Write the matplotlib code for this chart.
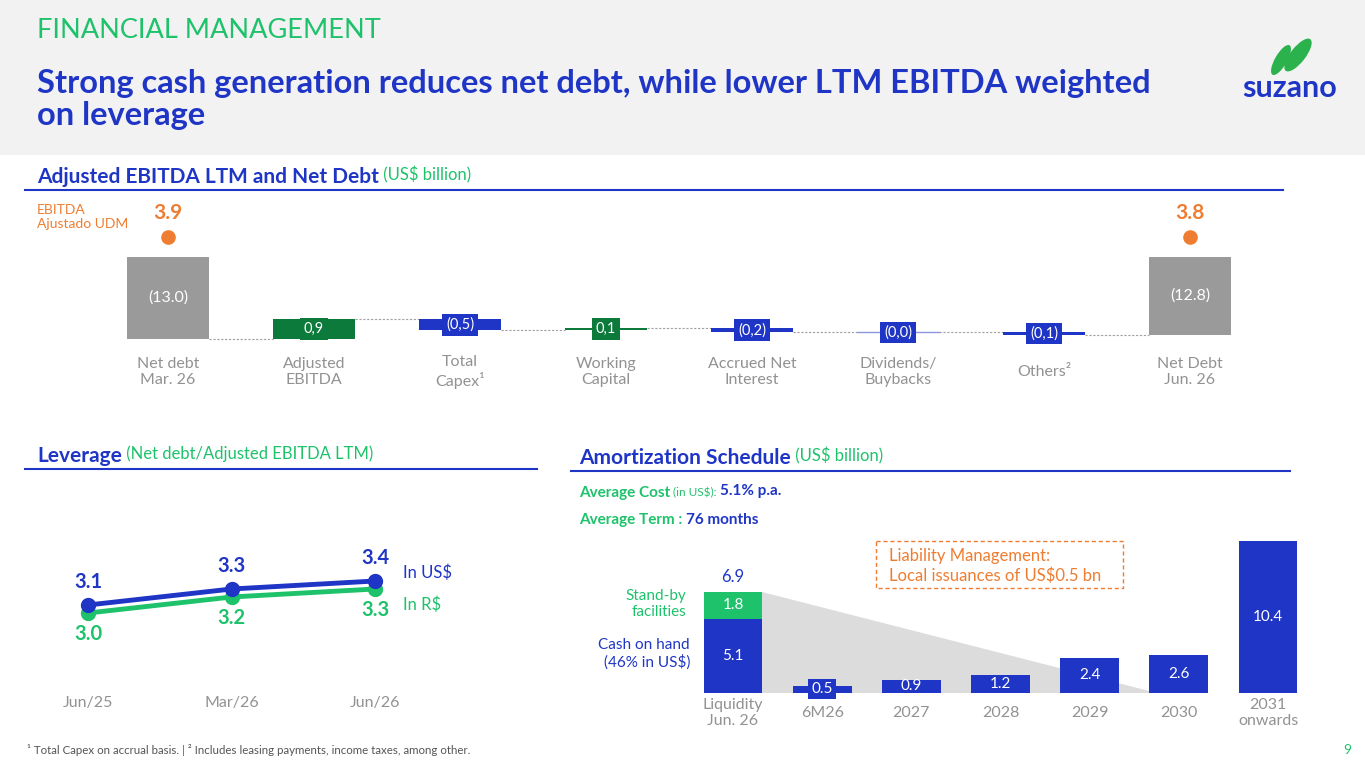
import matplotlib.pyplot as plt
from matplotlib.patches import Rectangle, Polygon, Ellipse

W, H = 1365, 768
plt.rcParams['font.family'] = ['Lato', 'DejaVu Sans']

# --- data ---
wf_labels = ['Net debt\nMar. 26', 'Adjusted\nEBITDA', 'Total\nCapex¹', 'Working\nCapital',
             'Accrued Net\nInterest', 'Dividends/\nBuybacks', 'Others²', 'Net Debt\nJun. 26']
net_debt_start = 13.0
net_debt_end = 12.8
debt_changes = [-0.9, 0.5, -0.1, 0.2, 0.0, 0.1]
change_texts = ['0,9', '(0,5)', '0,1', '(0,2)', '(0,0)', '(0,1)']
ebitda_ltm = [3.9, 3.8]

lev_periods = ['Jun/25', 'Mar/26', 'Jun/26']
lev_usd = [3.1, 3.3, 3.4]
lev_brl = [3.0, 3.2, 3.3]

amort_cats = ['Liquidity\nJun. 26', '6M26', '2027', '2028', '2029', '2030', '2031\nonwards']
cash_on_hand = 5.1
standby = 1.8
amort_values = [0.5, 0.9, 1.2, 2.4, 2.6, 10.4]

# --- colours ---
BLUE = '#1f35c5'
GREEN = '#1ec26b'
DKGREEN = '#0b7a3a'
GRAYBAR = '#9a9a9a'
ORANGE = '#ee7d31'
LBL = '#929292'


def px_axes(x0, y0, x1, y1):
    a = fig.add_axes([x0 / W, 1 - y1 / H, (x1 - x0) / W, (y1 - y0) / H])
    a.set_facecolor('none')
    a.axis('off')
    return a


fig = plt.figure(figsize=(W / 100, H / 100), dpi=100)
bg = px_axes(0, 0, W, H)
bg.set_xlim(0, W)
bg.set_ylim(H, 0)

# header
bg.add_patch(Rectangle((0, 0), W, 155, fc='#f2f2f2', ec='none'))
bg.text(37, 31, 'FINANCIAL MANAGEMENT', color=GREEN, fontsize=19.5, va='center')
bg.text(37, 83, 'Strong cash generation reduces net debt, while lower LTM EBITDA weighted',
        color=BLUE, fontsize=23.5, fontweight='bold', va='center')
bg.text(37, 116, 'on leverage', color=BLUE, fontsize=23.5, fontweight='bold', va='center')
# logo
bg.add_patch(Ellipse((1281, 60), 34, 12, angle=-60, fc='#2bb24c', ec='none'))
bg.add_patch(Ellipse((1298, 55), 40, 15, angle=-52, fc='#2bb24c', ec='none'))
bg.text(1290, 88, 'suzano', color=BLUE, fontsize=22, fontweight='bold', ha='center', va='center')


def heading(x, y, bold, light, x0, x1):
    t = bg.text(x, y, bold, color=BLUE, fontsize=15, fontweight='bold', va='center')
    bg.annotate(' ' + light, xy=(1, 0.2), xycoords=t, color=GREEN, fontsize=12,
                va='bottom')
    bg.plot([x0, x1], [y + 13, y + 13], color=BLUE, lw=1.5)


heading(37, 177, 'Adjusted EBITDA LTM and Net Debt', '(US$ billion)', 25, 1283)
heading(37, 456, 'Leverage', '(Net debt/Adjusted EBITDA LTM)', 25, 537)
heading(579, 458, 'Amortization Schedule', '(US$ billion)', 571, 1290)

# --- waterfall ---
ax1 = px_axes(95, 200, 1263, 345)
ax1.set_xlim(-0.5, 7.5)
ax1.set_ylim(13.273, 6.682)
gray_top = 9.27
bw = 0.56
levels = [net_debt_start]
for c in debt_changes:
    levels.append(levels[-1] + c)

for i, v in [(0, net_debt_start), (7, net_debt_end)]:
    ax1.bar(i, v - gray_top, bottom=gray_top, width=bw, color=GRAYBAR, zorder=2)
    ax1.text(i, (v + gray_top) / 2, f'({v:.1f})', color='white', fontsize=11.5,
             ha='center', va='center', zorder=3)

for i, (c, txt) in enumerate(zip(debt_changes, change_texts)):
    x = i + 1
    lo, hi = sorted([levels[i], levels[i + 1]])
    col = DKGREEN if c < 0 else BLUE
    if c == 0:
        ax1.plot([x - bw / 2, x + bw / 2], [lo, lo], color='#8d98e0', lw=1, zorder=2)
    else:
        ax1.bar(x, hi - lo, bottom=lo, width=bw, color=col, zorder=2)
    ax1.text(x, (lo + hi) / 2, txt, color='white', fontsize=10.5, ha='center', va='center',
             zorder=3, bbox=dict(boxstyle='square,pad=0.25', fc=col, ec='none'))

for i in range(7):
    ax1.plot([i + bw / 2, i + 1 - bw / 2], [levels[i], levels[i]], color='#a0a0a0',
             lw=0.8, ls=(0, (2, 1.5)), zorder=1)

xt = ax1.get_xaxis_transform()
for i, v in zip([0, 7], ebitda_ltm):
    ax1.plot(i, 0.745, 'o', color=ORANGE, ms=9.5, transform=xt, clip_on=False)
    ax1.text(i, 0.91, f'{v:.1f}', color=ORANGE, fontsize=15, fontweight='bold',
             ha='center', va='center', transform=xt)
for i, lab in enumerate(wf_labels):
    ax1.text(i, -0.186, lab, color=LBL, fontsize=11.5, ha='center',
             va='center', transform=xt, linespacing=1.15)
bg.text(37, 217, 'EBITDA\nAjustado UDM', color=ORANGE, fontsize=10, va='center',
        linespacing=1.25)

# --- leverage ---
ax2 = px_axes(16, 540, 532, 690)
ax2.set_xlim(-0.502, 3.094)
ax2.set_ylim(2.0375, 3.9125)
xs = range(len(lev_periods))
ax2.plot(xs, lev_brl, color=GREEN, lw=3.5, marker='o', ms=10, zorder=2)
ax2.plot(xs, lev_usd, color=BLUE, lw=3.5, marker='o', ms=10, zorder=3)
for x, u, r in zip(xs, lev_usd, lev_brl):
    ax2.annotate(f'{u:.1f}', (x, u), xytext=(0, 23), textcoords='offset pixels', color=BLUE,
                 fontsize=14.5, fontweight='bold', ha='center', va='center')
    ax2.annotate(f'{r:.1f}', (x, r), xytext=(0, -21), textcoords='offset pixels', color=GREEN,
                 fontsize=14.5, fontweight='bold', ha='center', va='center')
ax2.annotate('In US$', (xs[-1], lev_usd[-1]), xytext=(28, 8), textcoords='offset pixels',
             color=BLUE, fontsize=12, va='center')
ax2.annotate('In R$', (xs[-1], lev_brl[-1]), xytext=(28, -16), textcoords='offset pixels',
             color=GREEN, fontsize=12, va='center')
xt2 = ax2.get_xaxis_transform()
for x, lab in zip(xs, lev_periods):
    ax2.text(x, -0.087, lab, color=LBL, fontsize=11.5, ha='center',
             va='center', transform=xt2)

# --- amortization ---
t = bg.text(579, 493, 'Average Cost', color=GREEN, fontsize=11, fontweight='bold', va='center')
t = bg.annotate(' (in US$): ', xy=(1, 0.15), xycoords=t, color=GREEN, fontsize=8.5,
                va='bottom')
bg.annotate('5.1% p.a.', xy=(1, 0), xycoords=t, color=BLUE, fontsize=11,
            fontweight='bold', va='bottom')
t = bg.text(579, 520, 'Average Term : ', color=GREEN, fontsize=11, fontweight='bold', va='center')
bg.annotate('76 months', xy=(1, 0), xycoords=t, color=BLUE, fontsize=11,
            fontweight='bold', va='bottom')

ax3 = px_axes(690, 530, 1310, 693)
ax3.set_xlim(-0.482, 6.471)
ax3.set_ylim(0, 11.164)
w3 = 0.66
total = cash_on_hand + standby
ax3.add_patch(Polygon([(w3 / 2, total), (w3 / 2, 0), (4.75, 0)], closed=True,
                      fc='#dcdcdc', ec='none', zorder=1))
ax3.bar(0, cash_on_hand, width=w3, color=BLUE, zorder=2)
ax3.bar(0, standby, bottom=cash_on_hand, width=w3, color=GREEN, zorder=2)
ax3.text(0, cash_on_hand / 2, f'{cash_on_hand:.1f}', color='white', fontsize=11,
         ha='center', va='center', zorder=3)
ax3.text(0, cash_on_hand + standby / 2, f'{standby:.1f}', color='white', fontsize=11,
         ha='center', va='center', zorder=3)
ax3.annotate(f'{total:.1f}', (0, total), xytext=(0, 15), textcoords='offset pixels',
             color=BLUE, fontsize=12, ha='center', va='center')
for i, v in enumerate(amort_values):
    x = i + 1
    ax3.bar(x, v, width=w3, color=BLUE, zorder=2)
    kw = {}
    if v < 0.7:
        kw['bbox'] = dict(boxstyle='square,pad=0.2', fc=BLUE, ec='none')
    ax3.text(x, v / 2, f'{v:.1f}', color='white', fontsize=11, ha='center', va='center',
             zorder=3, **kw)
xt3 = ax3.get_xaxis_transform()
for i, lab in enumerate(amort_cats):
    ax3.text(i, -0.123, lab, color=LBL, fontsize=11.5, ha='center',
             va='center', transform=xt3, linespacing=1.1)

bg.text(686, 604, 'Stand-by\nfacilities', color=GREEN, fontsize=11, ha='right',
        va='center', linespacing=1.15)
bg.text(690, 654, 'Cash on hand\n(46% in US$)', color=BLUE, fontsize=11, ha='right',
        va='center', linespacing=1.15)
bg.add_patch(Rectangle((876, 541), 247, 47, fc='none', ec=ORANGE, lw=1, ls=(0, (3, 2))))
bg.text(889, 566, 'Liability Management:\nLocal issuances of US$0.5 bn', color=ORANGE,
        fontsize=12, va='center', linespacing=1.3)

# footer
bg.text(27, 750, '¹ Total Capex on accrual basis. | ² Includes leasing payments, income taxes, among other.',
        color='#555555', fontsize=8.3, va='center')
bg.text(1343, 750, '9', color=GREEN, fontsize=10, va='center')

fig.savefig('out.png', dpi=100)
